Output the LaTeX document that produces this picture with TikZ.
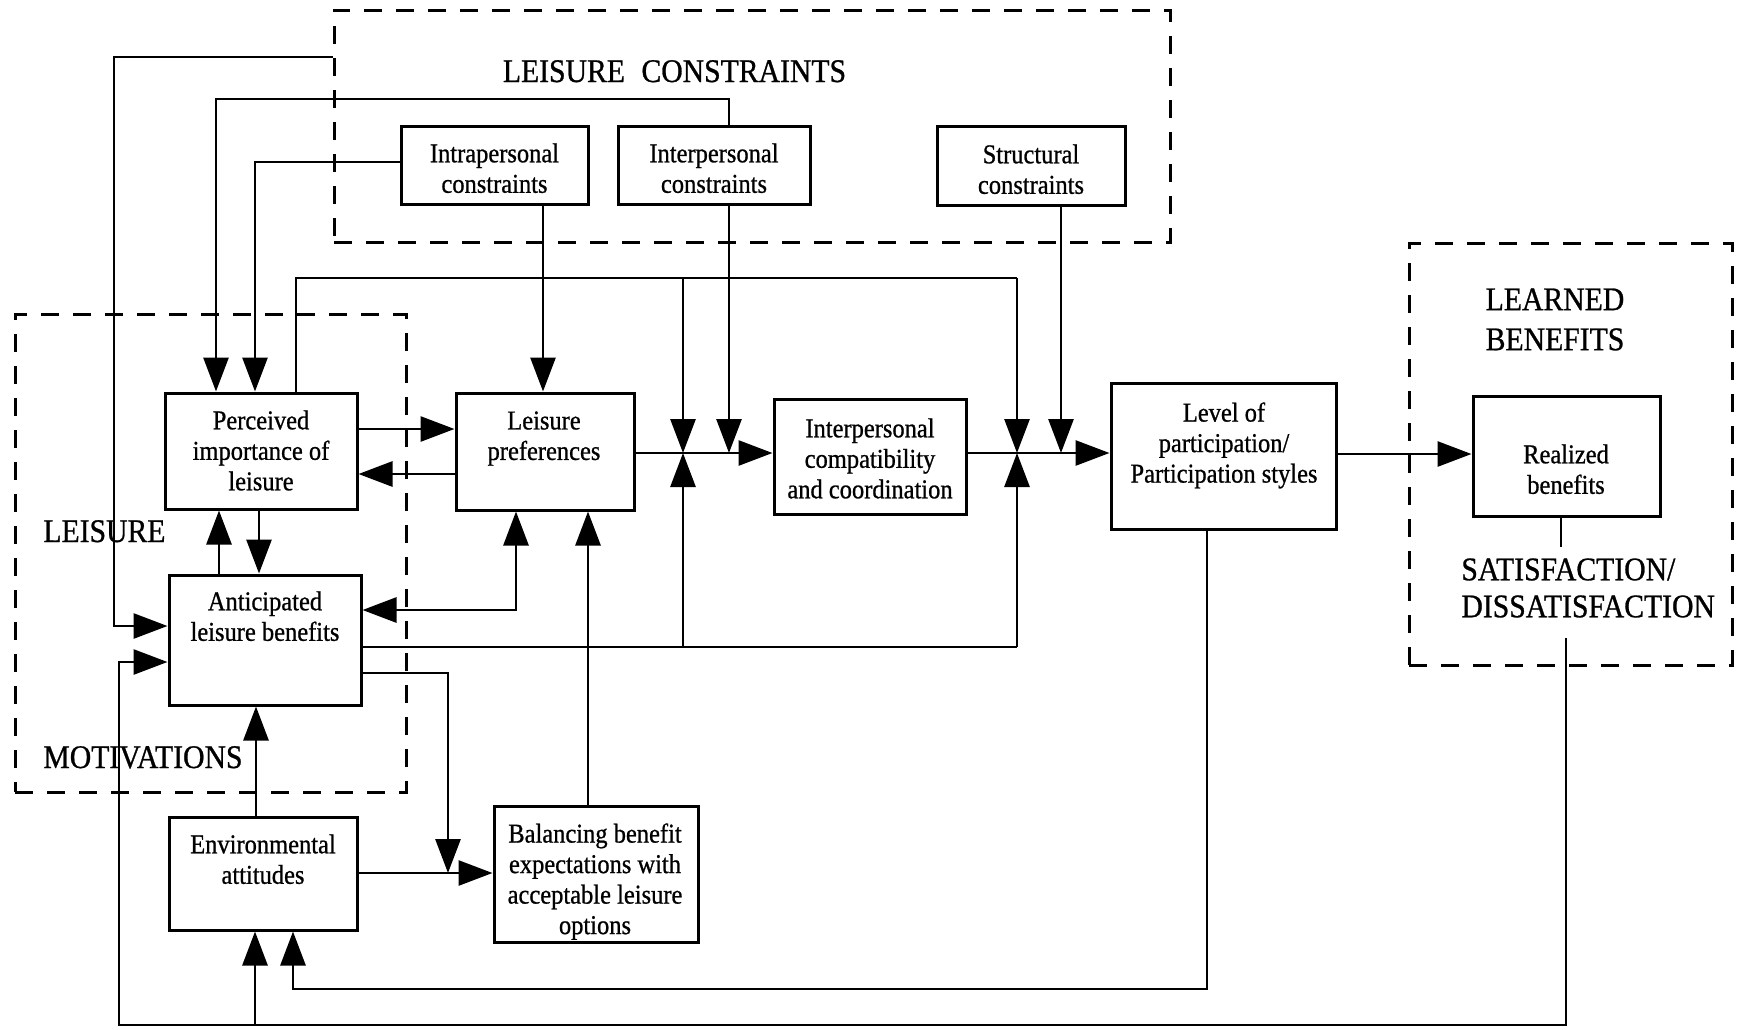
\documentclass[tikz,border=0pt]{standalone}
\usepackage{fontspec}
\setmainfont{Liberation Serif}[FakeStretch=0.9,FakeBold=0.8]
\usetikzlibrary{arrows.meta}
\begin{document}
\begin{tikzpicture}[x=1pt,y=-1pt,line width=2.8pt,
  arr/.style={-{Triangle[length=34pt,width=25pt]}},
  darr/.style={{Triangle[length=34pt,width=25pt]}-{Triangle[length=34pt,width=25pt]}},
  box/.style={draw,line width=3pt,inner sep=0pt,fill=white},
  zone/.style={draw,dash pattern=on 18pt off 14pt,line width=3pt,inner sep=0pt},
  txt/.style={align=center,inner sep=0pt,anchor=north,
    font=\fontsize{27.2}{30.5}\selectfont,execute at begin node={\rule{0pt}{25pt}}},
  big/.style={inner sep=0pt,font=\fontsize{33}{37}\selectfont}]

\fill[white] (0,0) rectangle (1741,1029);
\useasboundingbox (0,0) rectangle (1741,1029);

% grouping zones
\node[zone,minimum width=836pt,minimum height=232pt] (lc) at (752,126) {};
\node[zone,minimum width=391pt,minimum height=478pt] (lm) at (210.5,553) {};
\node[zone,minimum width=323pt,minimum height=422pt] (lbz) at (1570.5,454) {};

% zone titles
\node[big,anchor=base] (lct) at (674.5,82) {LEISURE\hspace{0.5em}CONSTRAINTS};
\node[big,anchor=base west] (leis) at (42,542) {LEISURE};
\node[big,anchor=base west] (motv) at (42,768) {MOTIVATIONS};
\node[big,align=center,anchor=north,font=\fontsize{33}{40}\selectfont,
  execute at begin node={\rule{0pt}{25pt}}] (lbt) at (1555,287) {LEARNED\\BENEFITS};
\node[big,align=left,anchor=north west,
  execute at begin node={\rule{0pt}{25pt}}] (sat) at (1460,557) {SATISFACTION/\\DISSATISFACTION};

% boxes
\node[box,minimum width=187pt,minimum height=78pt] (intra) at (494.5,165) {};
\node[box,minimum width=192pt,minimum height=78pt] (inter) at (714,165) {};
\node[box,minimum width=188pt,minimum height=79pt] (struct) at (1031,165.5) {};
\node[box,minimum width=192pt,minimum height=116pt] (pil) at (261,451) {};
\node[box,minimum width=178pt,minimum height=117pt] (lp) at (545,451.5) {};
\node[box,minimum width=192pt,minimum height=130pt] (alb) at (265,640) {};
\node[box,minimum width=192pt,minimum height=115pt] (icc) at (870,456.5) {};
\node[box,minimum width=225pt,minimum height=146pt] (level) at (1223.5,456) {};
\node[box,minimum width=187pt,minimum height=120pt] (real) at (1566.5,456) {};
\node[box,minimum width=188pt,minimum height=113pt] (env) at (263,873.5) {};
\node[box,minimum width=204pt,minimum height=136pt] (bal) at (596,874) {};

% box texts
\node[txt] (intra-t) at (494.5,142) {Intrapersonal\\constraints};
\node[txt] (inter-t) at (714,142) {Interpersonal\\constraints};
\node[txt] (struct-t) at (1031,143) {Structural\\constraints};
\node[txt] (pil-t) at (261,409) {Perceived\\importance of\\leisure};
\node[txt] (lp-t) at (544,410) {Leisure\\preferences};
\node[txt] (alb-t) at (265,590) {Anticipated\\leisure benefits};
\node[txt] (icc-t) at (870,417) {Interpersonal\\compatibility\\and coordination};
\node[txt] (level-t) at (1224,401) {Level of\\participation/\\Participation styles};
\node[txt] (real-t) at (1566,443) {Realized\\benefits};
\node[txt] (env-t) at (263,833) {Environmental\\attitudes};
\node[txt] (bal-t) at (595,822) {Balancing benefit\\expectations with\\acceptable leisure\\options};

% junction points on the main line
\coordinate (j1) at (683,453);
\coordinate (j2) at (1017,453);
\coordinate (j3) at (448,873);
\coordinate (sd) at (1566,638);
\coordinate (rs) at (1561,547);

% constraints feeding back to motivations
\draw[arr] (lc.west |- 0,57) -| (114,626) -- (alb.west |- 0,626);
\draw[arr] (729,0 |- inter.north) -- (729,99) -| (216,0 |- pil.north);
\draw[arr] (intra.west |- 0,162) -| (255,0 |- pil.north);
\draw[arr] (543,0 |- intra.south) -- (543,0 |- lp.north);

% bypass loops around interpersonal compatibility
\draw (296,0 |- pil.north) -- (296,278) -- (1017,278);
\draw[arr] (683,278) -- (j1);
\draw[arr] (1017,278) -- (j2);
\draw (alb.east |- 0,647) -- (1017,647);
\draw[arr] (683,647) -- (j1);
\draw[arr] (1017,647) -- (j2);

% main flow
\draw[arr] (lp.east |- j1) -- (icc.west |- j1);
\draw[arr] (icc.east |- j1) -- (level.west |- j1);
\draw[arr] (729,0 |- inter.south) -- (729,453);
\draw[arr] (1061,0 |- struct.south) -- (1061,453);
\draw[arr] (level.east |- 0,454) -- (real.west |- 0,454);

% motivations block
\draw[arr] (pil.east |- 0,429) -- (lp.west |- 0,429);
\draw[arr] (lp.west |- 0,474) -- (pil.east |- 0,474);
\draw[arr] (259,0 |- pil.south) -- (259,0 |- alb.north);
\draw[arr] (219,0 |- alb.north) -- (219,0 |- pil.south);
\draw[darr] (516,0 |- lp.south) |- (alb.east |- 0,610);
\draw[arr] (588,0 |- bal.north) -- (588,0 |- lp.south);
\draw[arr] (alb.east |- 0,673) -| (j3);
\draw[arr] (env.east |- j3) -- (bal.west |- j3);
\draw[arr] (256,0 |- env.north) -- (256,0 |- alb.south);

% feedback from participation and satisfaction
\draw[arr] (1207,0 |- level.south) |- (293,989) -- (293,0 |- env.south);
\draw (1561,0 |- real.south) -- (rs);
\draw[arr] (sd) |- (119,1025) |- (alb.west |- 0,662);
\draw[arr] (255,1025) -- (255,0 |- env.south);
\end{tikzpicture}
\end{document}
